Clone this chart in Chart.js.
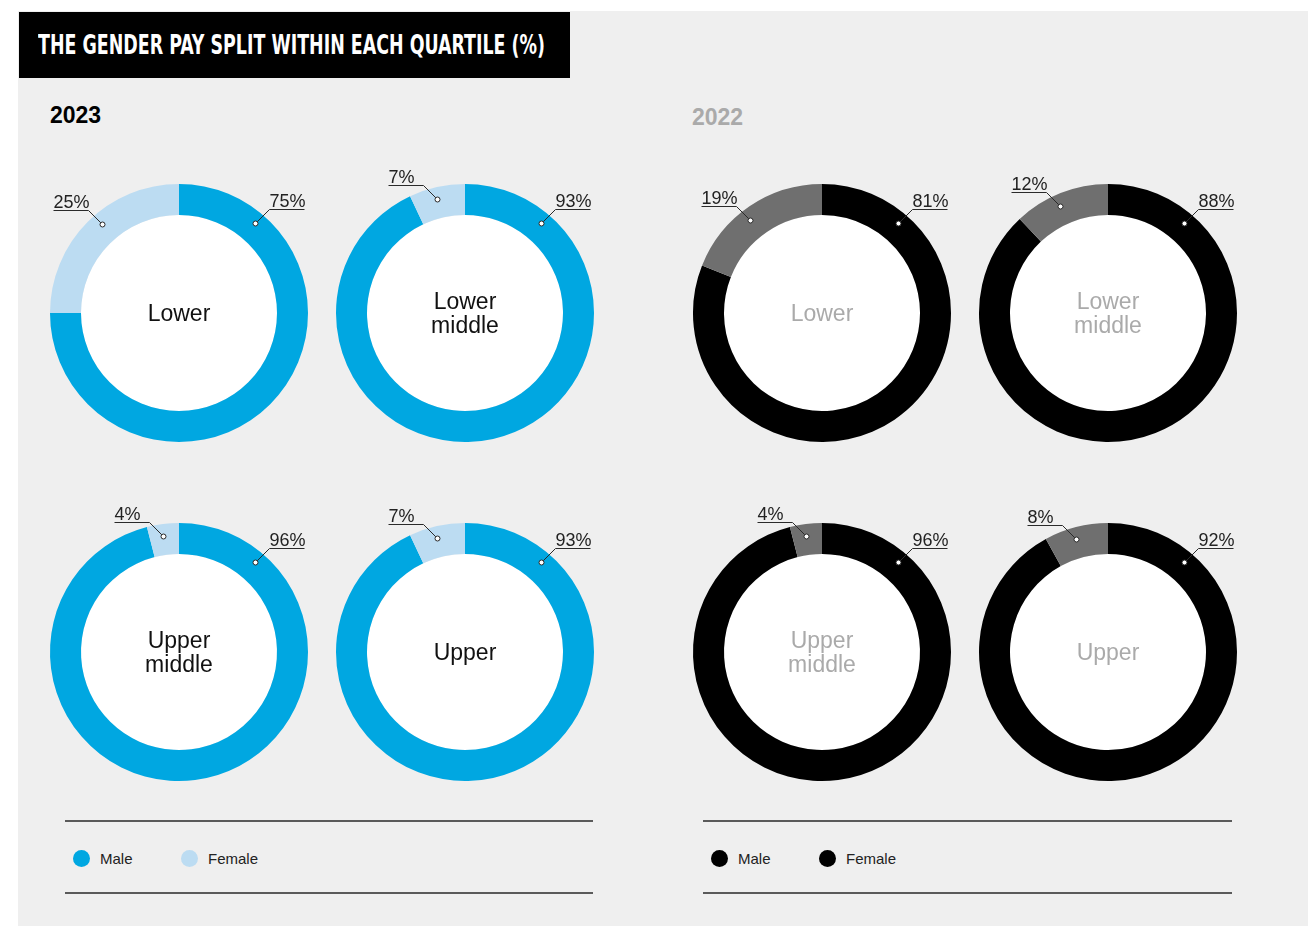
<!DOCTYPE html>
<html>
<head>
<meta charset="utf-8">
<title>Gender pay split within each quartile</title>
<script src="https://cdn.jsdelivr.net/npm/chart.js@4/dist/chart.umd.min.js"></script>
<style>
  html, body { margin: 0; padding: 0; background: #fff; }
  body { width: 1308px; height: 926px; position: relative; overflow: hidden;
         font-family: 'Liberation Sans', Arial, Helvetica, sans-serif; }
  #panel { position: absolute; left: 18px; top: 11px; right: 0; bottom: 0; background: #efefef; }
  #title { position: absolute; left: 19px; top: 12px; width: 551px; height: 66px; background: #000; }
  #title span { position: absolute; left: 19px; top: 0; color: #fff; white-space: nowrap;
                font: bold 27px 'Liberation Sans Narrow', 'DejaVu Sans Condensed', sans-serif;
                line-height: 66px; transform-origin: left center; }
  .year { position: absolute; font-weight: bold; font-size: 23px; line-height: 23px; }
  .donut { position: absolute; }
  .rule { position: absolute; height: 2px; background: #5a5a5a; }
  .key { position: absolute; display: flex; align-items: center; height: 18px; font-size: 15px; color: #222; }
  .key i { width: 17px; height: 17px; border-radius: 50%; display: inline-block; margin-right: 10px; }
</style>
</head>
<body>
<div id="panel"></div>
<div id="title"><span>THE GENDER PAY SPLIT WITHIN EACH QUARTILE (%)</span></div>
<div class="year" style="left:50px; top:104px; color:#000;">2023</div>
<div class="year" style="left:692px; top:106px; color:#aaa;">2022</div>
<div id="charts"></div>
<div id="legends"></div>

<script>
const quartiles = [['Lower'], ['Lower', 'middle'], ['Upper', 'middle'], ['Upper']];
const seriesNames = ['Male', 'Female'];
const male2023 = [75, 93, 96, 93];
const female2023 = [25, 7, 4, 7];
const male2022 = [81, 88, 96, 92];
const female2022 = [19, 12, 4, 8];

const LABEL_FONT = '"Liberation Sans", Arial, Helvetica, sans-serif';
const SIZE = 300;
const OUTER = 129;
const INNER = 98;

// white hole, quartile name in the middle and the two % callouts
const calloutPlugin = {
  id: 'callouts',
  beforeDatasetsDraw(chart) {
    const arc = chart.getDatasetMeta(0).data[0];
    const ctx = chart.ctx;
    ctx.save();
    ctx.fillStyle = '#fff';
    ctx.beginPath();
    ctx.arc(arc.x, arc.y, arc.innerRadius, 0, Math.PI * 2);
    ctx.fill();
    ctx.restore();
  },
  afterDatasetsDraw(chart, args, opts) {
    const ctx = chart.ctx;
    const arc = chart.getDatasetMeta(0).data[0];
    const cx = arc.x, cy = arc.y;
    const r = (arc.outerRadius + arc.innerRadius) / 2 + 4;
    const values = chart.data.datasets[0].data;

    ctx.save();
    ctx.fillStyle = opts.centreColor;
    ctx.font = '23px ' + LABEL_FONT;
    ctx.textAlign = 'center';
    ctx.textBaseline = 'alphabetic';
    const lines = opts.centre;
    const base = lines.length === 1 ? cy + 8 : cy - 4;
    lines.forEach((t, i) => ctx.fillText(t, cx, base + i * 24));

    // male callout sits to the right, female to the left
    const items = [
      [values[0], 40, 1],
      [values[1], Math.min(values[1] * 2, 41), -1]
    ];
    items.forEach(([v, deg, side]) => {
      const a = side * deg * Math.PI / 180;
      const px = Math.round(cx + r * Math.sin(a)) + 0.5;
      const py = Math.round(cy - r * Math.cos(a)) + 0.5;
      const ex = px + side * 14, ey = py - 14;
      const fx = ex + side * 35;
      ctx.strokeStyle = '#2a2a2a';
      ctx.lineWidth = 1;
      ctx.beginPath();
      ctx.moveTo(px, py);
      ctx.lineTo(ex, ey);
      ctx.lineTo(fx, ey);
      ctx.stroke();
      ctx.beginPath();
      ctx.arc(px, py, 2.5, 0, Math.PI * 2);
      ctx.fillStyle = '#fff';
      ctx.fill();
      ctx.stroke();
      ctx.fillStyle = '#222';
      ctx.font = '18px ' + LABEL_FONT;
      ctx.textAlign = 'left';
      ctx.fillText(v + '%', Math.min(ex, fx), ey - 3);
    });
    ctx.restore();
  }
};

function makeDonut(cx, cy, male, female, colours, centre, centreColor) {
  const canvas = document.createElement('canvas');
  canvas.className = 'donut';
  canvas.width = SIZE;
  canvas.height = SIZE;
  canvas.style.left = (cx - SIZE / 2) + 'px';
  canvas.style.top = (cy - SIZE / 2) + 'px';
  document.getElementById('charts').appendChild(canvas);

  return new Chart(canvas, {
    type: 'doughnut',
    data: {
      labels: seriesNames,
      datasets: [{ data: [male, female], backgroundColor: colours, borderWidth: 0, hoverOffset: 0 }]
    },
    options: {
      responsive: false,
      animation: false,
      events: [],
      radius: OUTER,
      cutout: (INNER / OUTER * 100).toFixed(2) + '%',
      plugins: {
        legend: { display: false },
        tooltip: { enabled: false },
        callouts: { centre: centre, centreColor: centreColor }
      }
    },
    plugins: [calloutPlugin]
  });
}

const cols2023 = [179, 465];
const cols2022 = [822, 1108];
const rows = [313, 652];
const blue = ['#00a7e1', '#bcdcf2'];
const dark = ['#000000', '#6f6f6f'];

quartiles.forEach((q, i) => {
  const col = i % 2, row = Math.floor(i / 2);
  makeDonut(cols2023[col], rows[row], male2023[i], female2023[i], blue, q, '#111');
  makeDonut(cols2022[col], rows[row], male2022[i], female2022[i], dark, q, '#aaa');
});

// shared legend blocks with rules above and below
function legendBlock(x0, x1, dotColours, keyXs) {
  const holder = document.getElementById('legends');
  [820, 892].forEach(y => {
    const d = document.createElement('div');
    d.className = 'rule';
    d.style.left = x0 + 'px';
    d.style.width = (x1 - x0) + 'px';
    d.style.top = y + 'px';
    holder.appendChild(d);
  });
  seriesNames.forEach((name, i) => {
    const k = document.createElement('div');
    k.className = 'key';
    k.style.left = keyXs[i] + 'px';
    k.style.top = '849px';
    k.innerHTML = '<i style="background:' + dotColours[i] + '"></i>' + name;
    holder.appendChild(k);
  });
}
legendBlock(65, 593, blue, [73, 181]);
legendBlock(703, 1232, ['#000', '#000'], [711, 819]);

// squeeze the heading into its black bar
const titleSpan = document.querySelector('#title span');
const w = titleSpan.getBoundingClientRect().width;
titleSpan.style.transform = 'scaleX(' + (507 / w) + ')';
</script>
</body>
</html>
